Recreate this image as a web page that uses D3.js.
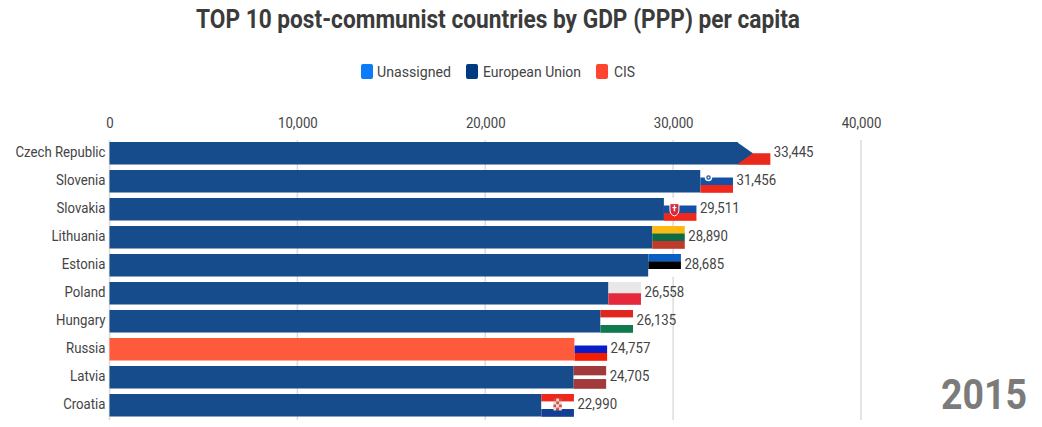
<!DOCTYPE html>
<html><head><meta charset="utf-8">
<script src="https://cdn.jsdelivr.net/npm/d3@7/dist/d3.min.js"></script>
<style>
html,body{margin:0;padding:0;background:#fff;overflow:hidden}
svg{display:block;font-family:Roboto,sans-serif}
</style></head><body><svg id="c" width="1042" height="427"></svg>
<script>
(function(){
const categories=["Czech Republic","Slovenia","Slovakia","Lithuania","Estonia","Poland","Hungary","Russia","Latvia","Croatia"];
const values=[33445,31456,29511,28890,28685,26558,26135,24757,24705,22990];
const groups=["European Union","European Union","European Union","European Union","European Union","European Union","European Union","CIS","European Union","European Union"];
const flagStripes=[
 ["#ffffff","#e8291c"],
 ["#ffffff","#1450a3","#f0281c"],
 ["#ffffff","#1450a3","#f0281c"],
 ["#fdb913","#0d6b45","#c1392b"],
 ["#0a5fc4","#000000","#ffffff"],
 ["#e8e8e8","#e5283c"],
 ["#e0261f","#ffffff","#0f7a4d"],
 ["#ffffff","#0a1ec8","#f51d00"],
 ["#a23a3c","#ffffff","#a23a3c"],
 ["#f0281c","#ffffff","#123f94"]];
const latviaStripeShares=[0.42,0.16,0.42];
const legendNames=["Unassigned","European Union","CIS"];
const legendColors=["#0a7cf8","#003a80","#ff4530"];
const groupBarColors={"European Union":"#164b8c","CIS":"#ff5a3c"};
const ticks=[0,10000,20000,30000,40000];
const year="2015";
const title="TOP 10 post-communist countries by GDP (PPP) per capita";

const svg=d3.select("#c");
const x=d3.scaleLinear().domain([0,40000]).range([109.5,861]);
const y=d3.scaleBand().domain(categories).range([142,416.5]).paddingInner(0.196);
const flagW=32.5, ink="#444", squeeze=0.88;

function fit(sel,len){sel.attr("textLength",len).attr("lengthAdjust","spacingAndGlyphs");return sel;}
function squeezeText(sel){sel.each(function(){fit(d3.select(this),this.getComputedTextLength()*squeeze);});}

fit(svg.append("text").attr("x",196).attr("y",27.5).attr("font-size",26).attr("font-weight",700).attr("fill","#3b3b3b").text(title),604);

// legend
const lx=d3.scaleOrdinal().domain(legendNames).range([361,466,596]);
const ltx=d3.scaleOrdinal().domain(legendNames).range([[377,74],[483,98],[614,21]]);
legendNames.forEach((n,i)=>{
  svg.append("rect").attr("x",lx(n)).attr("y",64).attr("width",12).attr("height",15).attr("rx",2).attr("fill",legendColors[i]);
  fit(svg.append("text").attr("x",ltx(n)[0]).attr("y",77).attr("font-size",15.5).attr("fill",ink).text(n),ltx(n)[1]);
});

// grid
svg.append("g").selectAll("line").data(ticks).join("line")
 .attr("x1",d=>x(d)).attr("x2",d=>x(d)).attr("y1",140).attr("y2",420)
 .attr("stroke","#dcdcdc").attr("stroke-width",1.5);

// axes
const axisT=svg.append("g").attr("transform","translate(0,128)")
 .call(d3.axisTop(x).tickValues(ticks).tickSize(0).tickPadding(0).tickFormat(d3.format(",")));
axisT.select(".domain").remove();
axisT.selectAll("text").attr("font-family","Roboto").attr("font-size",15).attr("fill",ink).attr("dy",0).call(squeezeText);

const axisL=svg.append("g").attr("transform","translate(105.5,-1)")
 .call(d3.axisLeft(y).tickSize(0).tickPadding(0));
axisL.select(".domain").remove();
axisL.selectAll("text").attr("font-family","Roboto").attr("font-size",15).attr("fill",ink).attr("dy","0.32em").call(squeezeText);

// bars
const rows=svg.append("g").selectAll("g").data(categories.map((c,i)=>({c,v:values[i],g:groups[i],s:flagStripes[i],i}))).join("g");
rows.append("rect").attr("x",x(0)).attr("y",d=>y(d.c)).attr("height",y.bandwidth())
 .attr("width",d=>x(d.v)-x(0)).attr("fill",d=>groupBarColors[d.g]);

// flags, attached at the bar's end
rows.each(function(d){
  const g=d3.select(this);
  const x0=x(d.v), t=y(d.c), h=y.bandwidth();
  const shares=d.c==="Latvia"?latviaStripeShares:d.s.map(()=>1/d.s.length);
  let acc=0;
  d.s.forEach((col,k)=>{
    g.append("rect").attr("x",x0).attr("y",t+acc*h).attr("width",flagW).attr("height",shares[k]*h+0.3).attr("fill",col);
    acc+=shares[k];
  });
  if(d.c==="Czech Republic"){
    g.append("path").attr("d",d3.line()([[x0-1,t],[x0+15,t+h/2],[x0-1,t+h]])).attr("fill",groupBarColors["European Union"]);
  }
  if(d.c==="Slovenia"){
    g.append("circle").attr("cx",x0+8).attr("cy",t+h*0.33).attr("r",3).attr("fill","#1450a3").attr("stroke","#fff").attr("stroke-width",1.5);
    g.append("circle").attr("cx",x0+8).attr("cy",t+h*0.33).attr("r",1).attr("fill","#fff");
  }
  if(d.c==="Slovakia"){
    g.append("path").attr("d",`M${x0+6},${t+h*.25}h9v${h*.28}q0,${h*.2} -4.5,${h*.27}q-4.5,${-h*.07} -4.5,${-h*.27}z`).attr("fill","#d8283a").attr("stroke","#fff").attr("stroke-width",1);
    g.append("rect").attr("x",x0+9.8).attr("y",t+h*.32).attr("width",1.4).attr("height",h*.27).attr("fill","#fff");
    g.append("rect").attr("x",x0+8.5).attr("y",t+h*.4).attr("width",4).attr("height",1.2).attr("fill","#fff");
  }
  if(d.c==="Croatia"){
    d3.range(4).forEach(r=>d3.range(3).forEach(q=>{
      g.append("rect").attr("x",x0+12+q*2.8).attr("y",t+h*.2+r*3).attr("width",2.8).attr("height",3)
       .attr("fill",(r+q)%2?"#f3d5d2":"#c9534a");
    }));
  }
  const lab=g.append("text").attr("x",x0+flagW+3.5).attr("y",t+h/2-1).attr("dy","0.32em").attr("font-size",15).attr("fill",ink).text(d3.format(",")(d.v));
  squeezeText(lab);
});

fit(svg.append("text").attr("x",941).attr("y",409).attr("font-size",43).attr("font-weight",700).attr("fill","#7b7b7b").text(year),86);
})();
</script></body></html>
